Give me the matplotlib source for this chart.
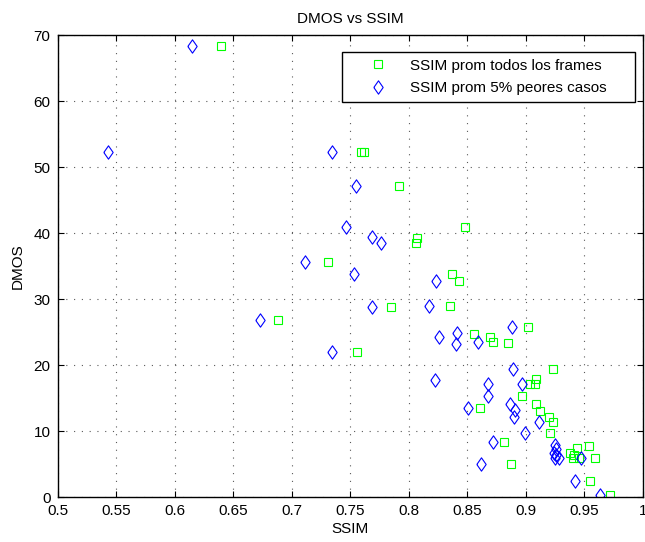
import numpy as np
import matplotlib
matplotlib.use("Agg")
import matplotlib.pyplot as plt

plt.rcParams['font.family'] = ['Liberation Sans', 'DejaVu Sans']
plt.rcParams['font.size'] = 11

# SSIM prom todos los frames (green squares)
ssim_all = [0.640, 0.759, 0.762, 0.792, 0.848, 0.807, 0.806, 0.731, 0.837, 0.843,
            0.785, 0.835, 0.688, 0.756, 0.856, 0.869, 0.872, 0.885, 0.902, 0.923,
            0.909, 0.908, 0.9035, 0.897, 0.861, 0.909, 0.912, 0.9195, 0.9234, 0.9206,
            0.881, 0.887, 0.938, 0.940, 0.944, 0.954, 0.959, 0.941, 0.945, 0.955, 0.972]
dmos_all = [68.4, 52.3, 52.3, 47.1, 40.95, 39.3, 38.5, 35.6, 33.8, 32.7,
            28.8, 29.0, 26.8, 22.0, 24.8, 24.3, 23.5, 23.4, 25.8, 19.5,
            17.9, 17.1, 17.1, 15.4, 13.6, 14.1, 13.1, 12.2, 11.4, 9.8,
            8.4, 5.1, 6.7, 5.9, 7.4, 7.8, 5.9, 6.4, 6.0, 2.5, 0.3]

# SSIM prom 5% peores casos (blue diamonds)
ssim_worst = [0.615, 0.543, 0.734, 0.755, 0.746, 0.769, 0.776, 0.711, 0.753, 0.823,
              0.769, 0.8175, 0.673, 0.734, 0.8255, 0.841, 0.8406, 0.859, 0.888, 0.889,
              0.8226, 0.868, 0.868, 0.897, 0.8506, 0.886, 0.8907, 0.890, 0.9115, 0.899,
              0.872, 0.862, 0.925, 0.9257, 0.924, 0.926, 0.928, 0.925, 0.947, 0.942, 0.963]
dmos_worst = [68.4, 52.3, 52.3, 47.1, 40.95, 39.4, 38.6, 35.6, 33.8, 32.7,
              28.8, 29.0, 26.8, 22.0, 24.3, 24.9, 23.3, 23.5, 25.8, 19.5,
              17.8, 17.1, 15.4, 17.1, 13.6, 14.1, 13.2, 12.1, 11.4, 9.7,
              8.4, 5.1, 7.9, 7.3, 6.7, 6.4, 5.9, 5.9, 6.0, 2.5, 0.3]

labels = ['SSIM prom todos los frames', 'SSIM prom 5% peores casos']
xticks = np.arange(0.5, 1.001, 0.05)
yticks = np.arange(0, 71, 10)

# matlab style tall diamond
diamond = [(-0.7, 0), (0, 1), (0.7, 0), (0, -1), (-0.7, 0)]

fig = plt.figure(figsize=(6.45, 5.42), dpi=100)
ax = fig.add_axes([57.5 / 645, 44.7 / 542, 585.5 / 645, 462 / 542])

ax.plot(ssim_all, dmos_all, linestyle='none', marker='s', ms=5.8,
        mfc='none', mec='#00ff00', mew=0.8, label=labels[0])
ax.plot(ssim_worst, dmos_worst, linestyle='none', marker=diamond, ms=9.6,
        mfc='none', mec='#0000ff', mew=0.8, label=labels[1])

ax.set_xlim(0.5, 1)
ax.set_ylim(0, 70)
ax.set_xticks(xticks)
ax.set_xticklabels(['0.5', '0.55', '0.6', '0.65', '0.7', '0.75', '0.8', '0.85', '0.9', '0.95', '1'])
ax.set_yticks(yticks)
ax.tick_params(direction='in', length=4, width=0.8, top=True, right=True, pad=5)
for s in ax.spines.values():
    s.set_linewidth(1.0)
ax.grid(True, linestyle=(0, (1, 6)), linewidth=0.8, color='0.35')

ax.set_title('DMOS vs SSIM', fontsize=11, pad=9)
ax.set_xlabel('SSIM', labelpad=3)
ax.set_ylabel('DMOS', labelpad=6)

leg = ax.legend(loc='upper left', bbox_to_anchor=(0.486, 0.964, 0.5, 0.0),
                mode='expand', fancybox=False, framealpha=1, edgecolor='k',
                borderpad=0.45, handlelength=3.8, handletextpad=0.2,
                labelspacing=0.55, borderaxespad=0)
leg.get_frame().set_linewidth(1.0)

fig.savefig('out.png', dpi=100)
